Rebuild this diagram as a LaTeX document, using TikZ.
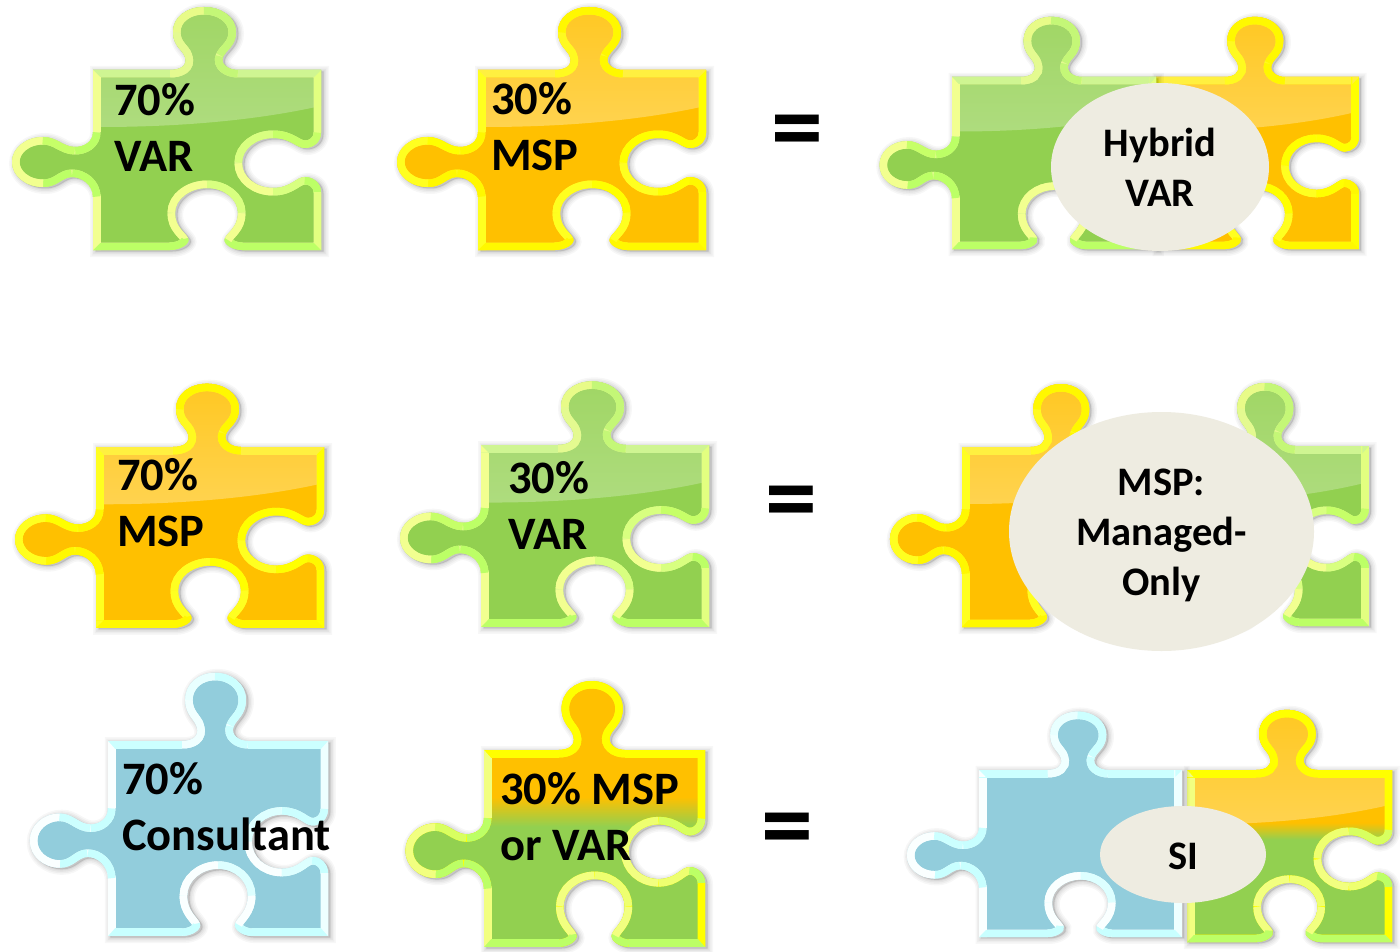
\documentclass[tikz,border=0pt]{standalone}
\usepackage{fontspec}
\setmainfont{Carlito}
\usetikzlibrary{shapes.geometric}
\definecolor{grn}{HTML}{92D050}
\definecolor{org}{HTML}{FFC000}
\definecolor{blu}{HTML}{92CDDC}
\definecolor{ovl}{HTML}{EEECE1}
\tikzset{
  lab/.style={font=\fontsize{46.5}{56}\selectfont\bfseries,align=left,anchor=west,inner sep=0pt,text=black},
  oval/.style={ellipse,fill=ovl,inner sep=0pt,font=\fontsize{40.5}{50}\selectfont\bfseries,align=center,text=black},
  eqsign/.style={font=\fontsize{104}{104}\selectfont\bfseries,anchor=base,inner sep=0pt,text=black},
  band/.style={line width=15pt,line cap=butt}
}
\newcommand\piecepath{(0,0)--(77,0)
 .. controls (87,0) and (95,-4) .. (92,-13)
 .. controls (90,-20) and (80,-24) .. (80,-38)
 .. controls (80,-53) and (94,-63) .. (111,-63)
 .. controls (128,-63) and (143,-53) .. (143,-38)
 .. controls (143,-24) and (133,-20) .. (130,-13)
 .. controls (127,-6) and (135,0) .. (145,0)
 -- (228,0) -- (228,63)
 .. controls (228,72) and (220,78) .. (212,78)
 .. controls (203,78) and (198,68) .. (180,68)
 .. controls (163,68) and (149,79) .. (149,93)
 .. controls (149,107) and (163,118) .. (180,118)
 .. controls (198,118) and (203,107) .. (212,107)
 .. controls (220,107) and (228,113) .. (228,122)
 -- (228,180) -- (149,180)
 .. controls (140,180) and (129,174) .. (132,168)
 .. controls (135,162) and (145,157) .. (145,143)
 .. controls (145,129) and (131,118) .. (114,118)
 .. controls (97,118) and (82,129) .. (82,143)
 .. controls (82,157) and (92,162) .. (95,168)
 .. controls (98,174) and (87,180) .. (77,180)
 -- (0,180) -- (0,127)
 .. controls (0,115) and (-11,107) .. (-21,107)
 .. controls (-31,107) and (-35,117) .. (-50,117)
 .. controls (-67,117) and (-81,106) .. (-81,92)
 .. controls (-81,78) and (-67,67) .. (-50,67)
 .. controls (-36,67) and (-30,77) .. (-18,77)
 .. controls (-9,77) and (0,72) .. (0,62) -- cycle}
\newcommand\bandsegs{%
 \draw[band,draw=cN] \piecepath;
 \draw[band,draw=cL,line cap=round] (0,180)--(0,127);
 \draw[band,draw=cL] (0,62)--(0,0);
 \draw[band,draw=cT] (0,0)--(77,0);
 \draw[band,draw=cN] (77,0) .. controls (87,0) and (95,-4) .. (92,-13);
 \draw[band,draw=cN] (92,-13) .. controls (90,-20) and (80,-24) .. (80,-38);
 \draw[band,draw=cP] (80,-38) .. controls (80,-53) and (94,-63) .. (111,-63);
 \draw[band,draw=cQ] (111,-63) .. controls (128,-63) and (143,-53) .. (143,-38);
 \draw[band,draw=cQ] (143,-38) .. controls (143,-24) and (133,-20) .. (130,-13);
 \draw[band,draw=cQ] (130,-13) .. controls (127,-6) and (135,0) .. (145,0);
 \draw[band,draw=cT] (145,0)--(228,0);
 \draw[band,draw=cR] (228,0)--(228,63);
 \draw[band,draw=cH] (228,63) .. controls (228,72) and (220,78) .. (212,78);
 \draw[band,draw=cH] (212,78) .. controls (203,78) and (198,68) .. (180,68);
 \draw[band,draw=cS] (180,68) .. controls (163,68) and (149,79) .. (149,93);
 \draw[band,draw=cL] (149,93) .. controls (149,107) and (163,118) .. (180,118);
 \draw[band,draw=cS] (180,118) .. controls (198,118) and (203,107) .. (212,107);
 \draw[band,draw=cB] (212,107) .. controls (220,107) and (228,113) .. (228,122);
 \draw[band,draw=cR] (228,122)--(228,180);
 \draw[band,draw=cB] (228,180)--(149,180);
 \draw[band,draw=cB] (149,180) .. controls (140,180) and (129,174) .. (132,168);
 \draw[band,draw=cL] (132,168) .. controls (135,162) and (145,157) .. (145,143);
 \draw[band,draw=cS] (145,143) .. controls (145,129) and (131,118) .. (114,118);
 \draw[band,draw=cL] (114,118) .. controls (97,118) and (82,129) .. (82,143);
 \draw[band,draw=cL] (82,143) .. controls (82,157) and (92,162) .. (95,168);
 \draw[band,draw=cB] (95,168) .. controls (98,174) and (87,180) .. (77,180);
 \draw[band,draw=cB] (77,180)--(0,180);
 \draw[band,draw=cB] (0,127) .. controls (0,115) and (-11,107) .. (-21,107);
 \draw[band,draw=cB] (-21,107) .. controls (-31,107) and (-35,117) .. (-50,117);
 \draw[band,draw=cL] (-50,117) .. controls (-67,117) and (-81,106) .. (-81,92);
 \draw[band,draw=cL] (-81,92) .. controls (-81,78) and (-67,67) .. (-50,67);
 \draw[band,draw=cH] (-50,67) .. controls (-36,67) and (-30,77) .. (-18,77);
 \draw[band,draw=cB] (-18,77) .. controls (-9,77) and (0,72) .. (0,62);
 % bevelled corners
 \fill[cL] (0,0)--(7.5,7.5)--(0,7.5)--cycle;
 \fill[cT] (228,0)--(220.5,7.5)--(220.5,0)--cycle;
 \fill[cL] (0,180)--(7.5,172.5)--(0,172.5)--cycle;
 \fill[cR] (228,180)--(220.5,172.5)--(228,172.5)--cycle;
}
\newcommand\kindgreen{%
 \definecolor{cT}{HTML}{CFF592}\definecolor{cN}{HTML}{E4FA90}
 \definecolor{cP}{HTML}{E8FB88}\definecolor{cQ}{HTML}{C4F777}\definecolor{cR}{HTML}{E2FF80}
 \definecolor{cH}{HTML}{C6FF68}\definecolor{cS}{HTML}{D8FF80}\definecolor{cL}{HTML}{F2FF90}
 \definecolor{cB}{HTML}{BCFF66}\definecolor{hiT}{HTML}{9ED561}\definecolor{hiB}{HTML}{AEDC7E}
 \def\basefill{\fill[grn] (-100,-80) rectangle (240,190);}}
\newcommand\kindorange{%
 \definecolor{cT}{HTML}{FFF040}\definecolor{cN}{HTML}{FFFA20}
 \definecolor{cP}{HTML}{FFF800}\definecolor{cQ}{HTML}{FFF800}\definecolor{cR}{HTML}{FFFF00}
 \definecolor{cH}{HTML}{FFFF00}\definecolor{cS}{HTML}{FFFF00}\definecolor{cL}{HTML}{FFFF20}
 \definecolor{cB}{HTML}{FFF800}\definecolor{hiT}{HTML}{FFC61C}\definecolor{hiB}{HTML}{FFD34F}
 \def\basefill{\fill[org] (-100,-80) rectangle (240,190);}}
\newcommand\kindblue{%
 \definecolor{cT}{HTML}{CCFFFF}\definecolor{cN}{HTML}{F0FFFF}
 \definecolor{cP}{HTML}{E8FFFF}\definecolor{cQ}{HTML}{CCFFFF}\definecolor{cR}{HTML}{EEFFFF}
 \definecolor{cH}{HTML}{CCFFFF}\definecolor{cS}{HTML}{DDFFFF}\definecolor{cL}{HTML}{FAFFFF}
 \definecolor{cB}{HTML}{C8FFFF}\definecolor{hiT}{HTML}{92CDDC}\definecolor{hiB}{HTML}{92CDDC}
 \def\basefill{\fill[blu] (-100,-80) rectangle (240,190);}}
\newcommand\kindmixed[2]{%
 \definecolor{cT}{HTML}{FFFF00}\definecolor{cN}{HTML}{FFFF00}
 \definecolor{cP}{HTML}{FFFF00}\definecolor{cQ}{HTML}{FFFF00}\definecolor{cR}{HTML}{FFFF00}
 \definecolor{cH}{HTML}{D8FF60}\definecolor{cS}{HTML}{EEFF70}\definecolor{cL}{HTML}{F2FF80}
 \definecolor{cB}{HTML}{BCFF66}\definecolor{hiT}{HTML}{FFC61C}\definecolor{hiB}{HTML}{FFD34F}
 \def\basefill{\fill[org] (-100,-80) rectangle (240,#1);
  \shade[top color=org,bottom color=grn] (-100,#1) rectangle (240,#2);
  \fill[grn] (-100,#2) rectangle (240,190);}}
\newcommand\hilite{\shade[top color=hiT,bottom color=hiB]
  (-100,-80) -- (240,-80) -- (240,33) .. controls (180,48) and (100,57) .. (7,57) -- (-100,57) -- cycle;}
\newcommand\nohilite{}
% origin x, origin y, x scale, y scale, colour set, highlight
\newcommand\piece[6]{%
 \begin{scope}[shift={(#1,#2)},xscale=#3,yscale=#4]
  #5
  \begin{scope}[shift={(2.5,1.5)}]
   \fill[black,opacity=.12] \piecepath;
   \draw[black,opacity=.03,line width=11pt] \piecepath;
   \draw[black,opacity=.035,line width=8pt] \piecepath;
   \draw[black,opacity=.04,line width=5pt] \piecepath;
   \draw[black,opacity=.05,line width=2pt] \piecepath;
  \end{scope}
  \begin{scope}
   \clip \piecepath;
   \basefill
   #6
   \bandsegs
  \end{scope}
 \end{scope}}
\begin{document}
\begin{tikzpicture}[x=1pt,y=-1pt]
\useasboundingbox (0,0) rectangle (1400,952);
\fill[white] (0,0) rectangle (1400,952);
% row 1
\piece{93}{70}{1}{1}{\kindgreen}{\hilite}
\piece{478}{70}{1}{1}{\kindorange}{\hilite}
\piece{1156}{77}{.89}{.956}{\kindorange}{\hilite}
\piece{952}{77}{.895}{.956}{\kindgreen}{\hilite}
% row 2
\piece{96}{447}{1}{1.005}{\kindorange}{\hilite}
\piece{481}{445}{1}{1.01}{\kindgreen}{\hilite}
\piece{1166}{446}{.89}{1}{\kindgreen}{\hilite}
\piece{962}{447}{.89}{1}{\kindorange}{\hilite}
% row 3
\piece{108}{741}{.965}{1.083}{\kindblue}{\nohilite}
\piece{484}{750}{.97}{1.094}{\kindmixed{43}{70}}{\nohilite}
\piece{1187}{770}{.9}{.956}{\kindmixed{55}{73}}{\hilite}
\piece{979}{770}{.89}{.928}{\kindblue}{\nohilite}
% labels on pieces
\node[lab] (p1) at (114,127.5) {70\%\\VAR};
\node[lab] (p2) at (491,127) {30\%\\MSP};
\node[lab] (p3) at (117,502.5) {70\%\\MSP};
\node[lab] (p4) at (508,505.5) {30\%\\VAR};
\node[lab] (p5) at (122,806.5) {70\%\\Consultant};
\node[lab] (p6) at (500,816.5) {30\% MSP\\or VAR};
% equals signs
\node[eqsign] (e1) at (797.5,162) {=};
\node[eqsign] (e2) at (791,532) {=};
\node[eqsign] (e3) at (787,859) {=};
% result ovals
\node[oval,minimum width=218pt,minimum height=168pt] (o1) at (1160,167) {Hybrid\\VAR};
\node[oval,minimum width=305pt,minimum height=239pt] (o2) at (1161.5,531.5) {\rule{0pt}{34pt}MSP:\\Managed-\\Only};
\node[oval,minimum width=166pt,minimum height=97pt,text height=30pt] (o3) at (1183,854.5) {SI};
\end{tikzpicture}
\end{document}
